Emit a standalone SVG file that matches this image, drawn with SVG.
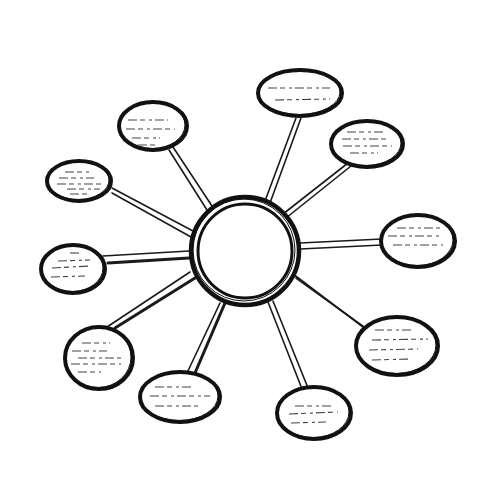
<svg xmlns="http://www.w3.org/2000/svg" width="500" height="500" viewBox="0 0 500 500">
<style>
.bg{fill:#ffffff}
.node{fill:#ffffff;stroke:#111111;stroke-width:4}
.sk{fill:none;stroke:#111111;stroke-width:1}
.c{stroke:#1a1a1a;stroke-width:1.6;stroke-linecap:round;fill:none}
.ct{stroke:#1a1a1a;stroke-width:3;stroke-linecap:round;fill:none}
.d{stroke:#444;stroke-width:1.1;stroke-dasharray:9 3 5 4 3 3;fill:none}
</style>
<rect class="bg" x="0" y="0" width="500" height="500"/>
<g id="connectors">
<line class="c" x1="265" y1="201" x2="296" y2="118"/><line class="c" x1="270" y1="203" x2="301" y2="118"/>
<line class="c" x1="283" y1="214" x2="348" y2="163"/><line class="c" x1="286" y1="218" x2="351" y2="166"/>
<line class="c" x1="300" y1="243" x2="382" y2="239"/><line class="c" x1="300" y1="249" x2="382" y2="245"/>
<line class="c" x1="293" y1="274" x2="367" y2="330"/><line class="c" x1="296" y1="278" x2="371" y2="332"/>
<line class="c" x1="268" y1="302" x2="302" y2="389"/><line class="c" x1="273" y1="301" x2="308" y2="388"/>
<line class="c" x1="220" y1="303" x2="187" y2="373"/><line class="ct" x1="225" y1="303" x2="195" y2="373"/>
<line class="c" x1="190" y1="272" x2="107" y2="327"/><line class="ct" x1="195" y1="278" x2="115" y2="328"/>
<line class="c" x1="103" y1="256" x2="189" y2="251"/><line class="ct" x1="108" y1="263" x2="189" y2="258"/>
<line class="c" x1="112" y1="188" x2="193" y2="231"/><line class="c" x1="112" y1="193" x2="191" y2="237"/>
<line class="c" x1="173" y1="147" x2="212" y2="206"/><line class="c" x1="169" y1="150" x2="207" y2="210"/>
</g>
<g id="center">
<circle class="node" cx="245" cy="251" r="54" style="stroke-width:4.5"/>
<circle class="sk" cx="244" cy="250" r="51"/>
<circle class="node" cx="245" cy="251" r="47" style="stroke-width:3"/>
</g>
<g id="n1"><ellipse class="node" cx="300" cy="93" rx="42" ry="23"/><ellipse class="sk" cx="299" cy="92" rx="41" ry="22.5"/>
<line class="d" x1="268" y1="88" x2="330" y2="88"/><line class="d" x1="275" y1="100" x2="330" y2="99"/></g>
<g id="n2"><ellipse class="node" cx="367" cy="144" rx="36" ry="23"/><ellipse class="sk" cx="366" cy="143" rx="35" ry="22.5"/>
<line class="d" x1="347" y1="132" x2="383" y2="132"/><line class="d" x1="342" y1="139" x2="390" y2="139"/><line class="d" x1="343" y1="146" x2="392" y2="146"/><line class="d" x1="350" y1="153" x2="378" y2="153"/></g>
<g id="n3"><ellipse class="node" cx="418" cy="241" rx="37" ry="26"/><ellipse class="sk" cx="417" cy="240" rx="36" ry="25.5"/>
<line class="d" x1="397" y1="228" x2="440" y2="228"/><line class="d" x1="388" y1="236" x2="442" y2="236"/><line class="d" x1="393" y1="245" x2="443" y2="245"/></g>
<g id="n4"><ellipse class="node" cx="397" cy="346" rx="41" ry="29"/><ellipse class="sk" cx="396" cy="345" rx="40" ry="28.5"/>
<line class="d" x1="375" y1="330" x2="412" y2="330"/><line class="d" x1="372" y1="340" x2="428" y2="339"/><line class="d" x1="369" y1="350" x2="418" y2="349"/><line class="d" x1="372" y1="360" x2="411" y2="359"/></g>
<g id="n5"><ellipse class="node" cx="314" cy="413" rx="37" ry="26"/><ellipse class="sk" cx="313" cy="412" rx="36" ry="25.5"/>
<line class="d" x1="295" y1="406" x2="333" y2="406"/><line class="d" x1="289" y1="414" x2="338" y2="412"/><line class="d" x1="291" y1="423" x2="326" y2="422"/></g>
<g id="n6"><ellipse class="node" cx="180" cy="397" rx="40" ry="25"/><ellipse class="sk" cx="179" cy="396" rx="39" ry="24.5"/>
<line class="d" x1="155" y1="387" x2="192" y2="387"/><line class="d" x1="150" y1="396" x2="210" y2="396"/><line class="d" x1="155" y1="406" x2="198" y2="406"/></g>
<g id="n7"><ellipse class="node" cx="99" cy="358" rx="34" ry="31"/><ellipse class="sk" cx="98" cy="357" rx="33" ry="30.5"/>
<line class="d" x1="82" y1="343" x2="110" y2="343"/><line class="d" x1="72" y1="351" x2="107" y2="351"/><line class="d" x1="78" y1="358" x2="121" y2="358"/><line class="d" x1="71" y1="364" x2="121" y2="364"/><line class="d" x1="78" y1="372" x2="101" y2="372"/></g>
<g id="n8"><ellipse class="node" cx="73" cy="269" rx="32" ry="24"/><ellipse class="sk" cx="72" cy="268" rx="31" ry="23.5"/>
<line class="d" x1="70" y1="253" x2="82" y2="253"/><line class="d" x1="58" y1="261" x2="90" y2="260"/><line class="d" x1="52" y1="268" x2="90" y2="266"/><line class="d" x1="51" y1="277" x2="85" y2="276"/></g>
<g id="n9"><ellipse class="node" cx="79" cy="181" rx="32" ry="20"/><ellipse class="sk" cx="78" cy="180" rx="31" ry="19.5"/>
<line class="d" x1="65" y1="172" x2="92" y2="172"/><line class="d" x1="59" y1="178" x2="94" y2="178"/><line class="d" x1="57" y1="184" x2="104" y2="184"/><line class="d" x1="67" y1="189" x2="100" y2="189"/><line class="d" x1="70" y1="194" x2="91" y2="194"/></g>
<g id="n10"><ellipse class="node" cx="153" cy="126" rx="34" ry="24"/><ellipse class="sk" cx="152" cy="125" rx="33" ry="23.5"/>
<line class="d" x1="128" y1="120" x2="168" y2="120"/><line class="d" x1="126" y1="129" x2="175" y2="129"/><line class="d" x1="132" y1="138" x2="160" y2="138"/><line class="d" x1="138" y1="145" x2="155" y2="145"/></g>
</svg>
